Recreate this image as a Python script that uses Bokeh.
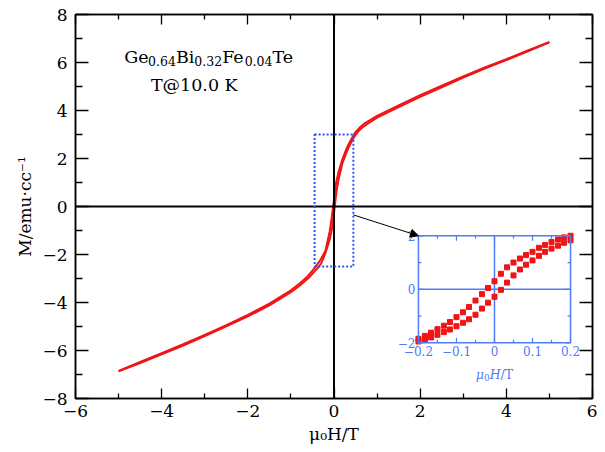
from bokeh.plotting import figure
from bokeh.models import Range1d, FixedTicker, LinearAxis, Span, Arrow, NormalHead, BoxAnnotation
from bokeh.core.properties import value
from bokeh.embed import file_html
from bokeh.resources import INLINE

# ---------------- data ----------------
main_H = [-5.0, -4.5, -4.0, -3.5, -3.0, -2.5, -2.0, -1.5, -1.0, -0.8, -0.7, -0.6, -0.5, -0.45, -0.35, -0.3,
          -0.2, -0.1, -0.05, 0.0, 0.05, 0.1, 0.2, 0.3, 0.35, 0.45, 0.5, 0.6, 0.7, 0.8, 1.0, 1.5, 2.0,
          2.5, 3.0, 3.5, 4.0, 4.5, 5.0]
main_M_down = [-6.85, -6.48, -6.11, -5.74, -5.35, -4.94, -4.52, -4.05, -3.49, -3.21, -3.05, -2.88, -2.67, -2.56, -2.32, -2.18,
               -1.85, -1.04, -0.42, 0.30, 1.00, 1.40, 2.00, 2.45, 2.64, 2.96, 3.10, 3.30, 3.45, 3.56, 3.78, 4.21, 4.64,
               5.03, 5.42, 5.79, 6.14, 6.50, 6.86]
main_M_up = [-6.87, -6.52, -6.16, -5.79, -5.40, -4.99, -4.58, -4.12, -3.57, -3.30, -3.15, -2.99, -2.80, -2.70, -2.50, -2.38,
             -1.95, -1.38, -0.95, -0.28, 0.52, 1.08, 1.83, 2.30, 2.50, 2.84, 2.98, 3.20, 3.35, 3.47, 3.70, 4.14, 4.57,
             4.97, 5.37, 5.75, 6.10, 6.47, 6.84]

inset_H = [-0.200, -0.183, -0.167, -0.150, -0.133, -0.117, -0.100, -0.083, -0.067, -0.050,
           -0.033, -0.017, 0.000, 0.017, 0.033, 0.050, 0.067, 0.083, 0.100, 0.117, 0.133,
           0.150, 0.167, 0.183, 0.200]
inset_M_down = [-1.85, -1.74, -1.62, -1.49, -1.36, -1.22, -1.04, -0.86, -0.66, -0.42,
                -0.18, 0.05, 0.30, 0.58, 0.82, 1.00, 1.15, 1.28, 1.40, 1.55, 1.66,
                1.77, 1.86, 1.94, 2.00]
inset_M_up = [-1.95, -1.88, -1.80, -1.70, -1.60, -1.50, -1.38, -1.25, -1.12, -0.95,
              -0.72, -0.50, -0.28, -0.02, 0.25, 0.52, 0.74, 0.92, 1.08, 1.25, 1.40,
              1.52, 1.63, 1.74, 1.83]

x_major = [-6, -4, -2, 0, 2, 4, 6]
x_minor = [-5, -3, -1, 1, 3, 5]
y_major = [-8, -6, -4, -2, 0, 2, 4, 6, 8]
y_minor = [-7, -5, -3, -1, 1, 3, 5, 7]

inset_x_major = [-0.2, -0.1, 0.0, 0.1, 0.2]
inset_x_minor = [-0.15, -0.05, 0.05, 0.15]
inset_y_major = [-2, 0, 2]
inset_y_minor = [-1, 1]
inset_x_labels = ["\u22120.2", "\u22120.1", "0", "0.1", "0.2"]
inset_y_labels = ["\u22122", "0", "2"]

formula_parts = ["Ge", "0.64", "Bi", "0.32", "Fe", "0.04", "Te"]
temp_text = "T@10.0 K"
x_title = "\u03bc\u2080H/T"
y_title = "M/emu\u00b7cc\u207b\u00b9"
# inset title pieces: (text, style, is_subscript)
inset_title_parts = [("\u03bc", "italic", False), ("0", "normal", True), ("H", "italic", False), ("/T", "normal", False)]

# ---------------- style / layout constants ----------------
FONT = "DejaVu Serif"
RED = "#f01414"
IBLUE = "#4f7bf7"
BOXBLUE = "#2a55f0"
MAIN_FS = 17
LBL_FS = 17.5
SUB_FS = 12.5

# inset placement in main data coordinates
INS_L, INS_R, INS_B, INS_T = 1.96, 5.49, -5.68, -1.22
# zoom box in main data coordinates
ZB_L, ZB_R, ZB_B, ZB_T = -0.45, 0.45, -2.5, 3.0

widths = {"G": 0.775, "e": 0.592, "B": 0.733, "i": 0.320, "F": 0.693, "T": 0.681,
          "0": 0.636, "1": 0.636, "2": 0.636, "3": 0.636, "4": 0.636, "6": 0.636, ".": 0.318,
          "\u03bc": 0.66, "H": 0.85, "/": 0.337}


def tw(s, fs):
    return sum(widths.get(c, 0.6) for c in s) * fs


def fmt(v):
    return (f"{v:g}").replace("-", "\u2212")


p = figure(width=597, height=446, x_range=Range1d(-6, 6), y_range=Range1d(-8, 8),
           output_backend="svg", toolbar_location=None,
           min_border_left=75, min_border_right=5, min_border_top=14, min_border_bottom=48,
           x_axis_label=x_title, y_axis_label=y_title)
p.xgrid.visible = False
p.ygrid.visible = False
p.outline_line_color = "black"
p.outline_line_width = 1.5
p.background_fill_color = "white"
p.border_fill_color = "white"


def style_axis(ax, major, minor, tin, tmin, labels=True, standoff=6):
    ax.ticker = FixedTicker(ticks=major, minor_ticks=minor)
    ax.major_tick_in = tin
    ax.major_tick_out = 0
    ax.minor_tick_in = tmin
    ax.minor_tick_out = 0
    ax.axis_line_width = 1.5
    ax.axis_line_color = "black"
    ax.major_tick_line_width = 1.3
    ax.minor_tick_line_width = 1.3
    ax.major_tick_line_color = "black"
    ax.minor_tick_line_color = "black"
    if labels:
        ax.major_label_overrides = {v: fmt(v) for v in major}
        ax.major_label_text_font = FONT
        ax.major_label_text_font_size = f"{MAIN_FS}px"
        ax.major_label_text_color = "black"
        ax.major_label_standoff = standoff
        ax.axis_label_text_font = FONT
        ax.axis_label_text_font_size = f"{MAIN_FS}px"
        ax.axis_label_text_font_style = "normal"
        ax.axis_label_text_color = "black"
        ax.axis_label_standoff = 4
    else:
        ax.major_label_overrides = {v: "" for v in major}
        ax.major_label_text_font_size = "1px"
        ax.major_label_standoff = 0
        ax.axis_label = None


style_axis(p.xaxis[0], x_major, x_minor, 10, 5, True, 6)
style_axis(p.yaxis[0], y_major, y_minor, 13, 7, True, 8)
top_ax = LinearAxis()
right_ax = LinearAxis()
style_axis(top_ax, x_major, x_minor, 10, 5, False)
style_axis(right_ax, y_major, y_minor, 13, 7, False)
p.add_layout(top_ax, "above")
p.add_layout(right_ax, "right")

# zero lines
p.add_layout(Span(location=0, dimension="height", line_color="black", line_width=2))
p.add_layout(Span(location=0, dimension="width", line_color="black", line_width=2))

# main hysteresis loop
p.line(main_H, main_M_down, line_color=RED, line_width=2)
p.line(main_H, main_M_up, line_color=RED, line_width=2)

# dotted zoom box
p.add_layout(BoxAnnotation(left=ZB_L, right=ZB_R, bottom=ZB_B, top=ZB_T, fill_alpha=0,
                           line_color=BOXBLUE, line_alpha=1.0, line_width=2, line_dash="2 2"))

# arrow to the inset
p.add_layout(Arrow(end=NormalHead(size=8, fill_color="black", line_color="black"),
                   x_start=ZB_R, y_start=-0.35, x_end=INS_L, y_end=INS_T,
                   line_color="black", line_width=1))

# composition label (with subscripts)
LBL_X, LBL_Y = -4.87, 6.25
offs_main, txt_main, offs_sub, txt_sub = [], [], [], []
cursor = 0.0
for k, part in enumerate(formula_parts):
    is_sub = (k % 2 == 1)
    fs = SUB_FS if is_sub else LBL_FS
    if is_sub:
        offs_sub.append(cursor)
        txt_sub.append(part)
    else:
        offs_main.append(cursor)
        txt_main.append(part)
    cursor += tw(part, fs)

p.text(x=[LBL_X] * len(txt_main), y=[LBL_Y] * len(txt_main), text=txt_main, x_offset=offs_main,
       text_font=value(FONT), text_font_size=f"{LBL_FS}px", text_color="black",
       text_align="left", text_baseline="alphabetic")
p.text(x=[LBL_X] * len(txt_sub), y=[LBL_Y] * len(txt_sub), text=txt_sub, x_offset=offs_sub,
       y_offset=4, text_font=value(FONT), text_font_size=f"{SUB_FS}px", text_color="black",
       text_align="left", text_baseline="alphabetic")
p.text(x=[-4.25], y=[5.08], text=[temp_text], text_font=value(FONT),
       text_font_size=f"{LBL_FS}px", text_color="black", text_align="left",
       text_baseline="alphabetic")

# ---------------- inset (sub-coordinates) ----------------
ix0, ix1 = inset_x_major[0], inset_x_major[-1]
iy0, iy1 = inset_y_major[0], inset_y_major[-1]
ins = p.subplot(x_source=Range1d(ix0, ix1), y_source=Range1d(iy0, iy1),
                x_target=Range1d(INS_L, INS_R), y_target=Range1d(INS_B, INS_T))

ins.quad(left=[ix0], right=[ix1], bottom=[iy0], top=[iy1], fill_color="white", line_color=None)
ins.segment(x0=[ix0, 0], y0=[0, iy0], x1=[ix1, 0], y1=[0, iy1], line_color=IBLUE, line_width=1.5)
ins.scatter(inset_H, inset_M_down, marker="square", size=5, fill_color=RED, line_color=RED)
ins.scatter(inset_H, inset_M_up, marker="square", size=5, fill_color=RED, line_color=RED)
ins.quad(left=[ix0], right=[ix1], bottom=[iy0], top=[iy1], fill_color=None,
         line_color=IBLUE, line_width=1.5)

px_x = (ix1 - ix0) / 152.0
px_y = (iy1 - iy0) / 107.0
tx0, ty0, tx1, ty1 = [], [], [], []
for vals, ln in ((inset_x_major, 5), (inset_x_minor, 3)):
    for v in vals:
        tx0 += [v, v]; tx1 += [v, v]
        ty0 += [iy0, iy1]; ty1 += [iy0 + ln * px_y, iy1 - ln * px_y]
for vals, ln in ((inset_y_major, 5), (inset_y_minor, 3)):
    for v in vals:
        ty0 += [v, v]; ty1 += [v, v]
        tx0 += [ix0, ix1]; tx1 += [ix0 + ln * px_x, ix1 - ln * px_x]
ins.segment(x0=tx0, y0=ty0, x1=tx1, y1=ty1, line_color=IBLUE, line_width=1.2)

ins.text(x=inset_x_major, y=[iy0] * len(inset_x_major), text=inset_x_labels, y_offset=3,
         text_font=value(FONT), text_font_size="12px", text_color=IBLUE,
         text_align="center", text_baseline="top")
ins.text(x=[ix0] * len(inset_y_major), y=inset_y_major, text=inset_y_labels, x_offset=-3,
         text_font=value(FONT), text_font_size="12px", text_color=IBLUE,
         text_align="right", text_baseline="middle")

# inset x title from pieces
I_FS, I_SUB = 12.5, 9
total = sum(tw(t, I_SUB if sub else I_FS) for t, s, sub in inset_title_parts)
cur = -total / 2
for t, s, sub in inset_title_parts:
    fs = I_SUB if sub else I_FS
    ins.text(x=[0], y=[iy0], text=[t], x_offset=cur, y_offset=32 + (3 if sub else 0),
             text_font=value(FONT), text_font_size=f"{fs}px", text_font_style=s,
             text_color=IBLUE, text_align="left", text_baseline="alphabetic")
    cur += tw(t, fs)

open("out.html", "w").write(file_html(p, INLINE))
